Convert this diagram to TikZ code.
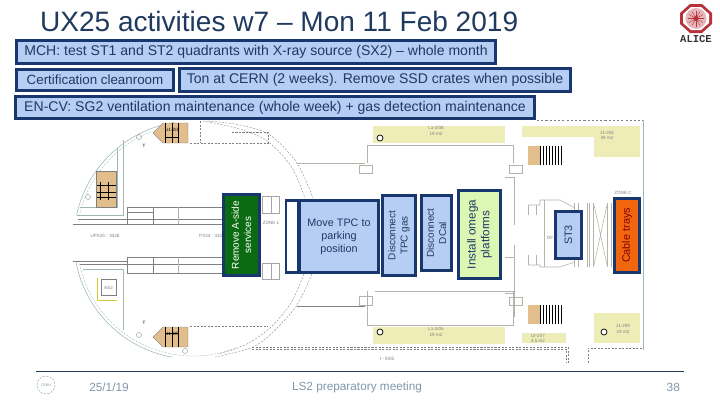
\documentclass[tikz,border=0pt]{standalone}
\usepackage{fontspec}
\setmainfont{Liberation Sans}
\newfontfamily\logofont{Liberation Mono}
\definecolor{navy}{HTML}{17376E}
\definecolor{inkblue}{HTML}{1F3864}
\definecolor{boxblue}{HTML}{B7CEF4}
\definecolor{titleblue}{HTML}{1F3A5F}
\definecolor{footgrey}{HTML}{7F98AC}
\definecolor{roomyellow}{HTML}{EEEDB8}
\definecolor{stairtan}{HTML}{E2BE8C}
\definecolor{wallgrey}{HTML}{B8B2AC}
\definecolor{wallteal}{HTML}{9DB8B4}
\definecolor{planink}{HTML}{7F7F7F}
\definecolor{alicered}{HTML}{B8323A}
\definecolor{asidegreen}{HTML}{0B6B12}
\definecolor{omegagreen}{HTML}{DCF7B4}
\definecolor{trayorange}{HTML}{F2660F}
\tikzset{
  boxsize/.style 2 args={minimum width=#1*0.05cm, minimum height=#2*0.05cm},
  barbox/.style={draw=navy, fill=boxblue, line width=3.6pt, inner sep=0pt, text=inkblue,
    font=\fontsize{20}{24}\selectfont},
  taskbox/.style={draw=navy, fill=boxblue, line width=3.6pt, inner sep=0pt, text=inkblue, align=center,
    font=\fontsize{15.4}{18.6}\selectfont},
  tasksmall/.style={font=\fontsize{14.2}{17.4}\selectfont},
  tasklarge/.style={font=\fontsize{16.6}{19.4}\selectfont},
  tinylabel/.style={text=planink, inner sep=0pt, font=\fontsize{6.5}{7}\selectfont},
  footlabel/.style={text=footgrey, inner sep=0pt, font=\fontsize{16.8}{20}\selectfont},
  wall/.style={draw=wallgrey, line width=0.8pt},
  tealwall/.style={draw=wallteal, line width=0.8pt},
  planline/.style={draw=planink, line width=0.4pt},
  plandash/.style={draw=planink, line width=0.5pt, densely dashed},
  room/.style={fill=roomyellow},
  stair/.style={fill=stairtan, draw=planink, line width=0.5pt},
}
\begin{document}
\begin{tikzpicture}[x=0.05cm, y=-0.05cm]
    \useasboundingbox (0,0) rectangle (720,405);

    % Title
    \node[text=titleblue, inner sep=0pt, anchor=west, font=\fontsize{39.9}{46}\selectfont] (title) at (40,21) {UX25 activities w7 – Mon 11 Feb 2019};

    % ALICE logo
    \fill[alicered] (690,4) -- (702,4) -- (712,13) -- (712,24) -- (702,33) -- (690,33) -- (680,24) -- (680,13) -- cycle;
    \fill[white] (691,7) -- (701,7) -- (709,14) -- (709,23) -- (701,30) -- (691,30) -- (683,23) -- (683,14) -- cycle;
    \fill[alicered!35] (696,18.5) circle[radius=10.5];
    \foreach \a in {0,30,...,330} {
        \draw[alicered, line width=0.6pt] (696,18.5) -- ++(\a:8);
    }
    \fill[alicered] (696,18.5) circle[radius=2.5];
    \node[inner sep=0pt, text=black!80, font=\fontsize{15}{17}\logofont\bfseries] (alice) at (696,39) {ALICE};

    % Outer circle of the cavern
    \draw[tealwall] (193,240) ++(261:119) arc[start angle=261, end angle=192, radius=119];
    \draw[tealwall] (193,240) ++(170:119) arc[start angle=170, end angle=100, radius=119];
    \draw[plandash, wallteal] (193,240) ++(261:116) arc[start angle=261, end angle=192, radius=116];
    \draw[plandash, wallteal] (193,240) ++(170:116) arc[start angle=170, end angle=68, radius=116];
    \draw[plandash] plot[smooth] coordinates {(208,121) (240,125) (270,135) (297,163) (313,198)};
    \draw[plandash] plot[smooth] coordinates {(203,121) (236,128) (266,140) (291,166) (305,198)};
    \draw[plandash] plot[smooth] coordinates {(312,274) (297,305) (275,330) (253,347) (215,357)};
    \draw[plandash] plot[smooth] coordinates {(304,274) (291,303) (270,328) (245,345) (218,354)};

    % Left rooms
    \draw[tealwall] (123,140) -- (123,215) -- (77,215);
    \draw[tealwall] (117,148) -- (117,207) -- (80,207);
    \draw[tealwall] (83,269) -- (123,269) -- (123,330);
    \fill[stair] (96,171) rectangle (116,207);
    \draw[planline, black] (97,185) -- (116,185) (97,192) -- (116,192) (97,197) -- (116,197) (100,182) -- (100,200) (108,182) -- (108,200);
    \draw[planline, yellow!80!black] (97,278) -- (97,300) -- (117,300);
    \draw[planline] (101,279) rectangle (116,295);
    \node[tinylabel] (asroom) at (108.5,288) {AS2};

    % Corridor
    \draw[planline] (78,219) -- (222,219) (73,224) -- (222,224) (127,207) -- (222,207) (127,212) -- (153,212);
    \draw[planline] (127,207) -- (127,224) (153,207) -- (153,224);
    \draw[planline] (73,261) -- (127,261) (80,264) -- (222,264) (127,257) -- (222,257) (127,273) -- (222,273);
    \draw[planline] (127,257) -- (127,273) (153,257) -- (153,273);
    \draw[planline, black!30] (178,207) -- (178,224) (178,257) -- (178,273);
    \node[tinylabel] (upx) at (105,236) {UPX25 : 3326};
    \node[tinylabel] (px) at (212,235.5) {PX24 : 3326};
    \node[tinylabel] (zone1) at (271,223) {ZONE 1};
    \draw[planline, black!35] (262,196) rectangle (279,213) (271,196) -- (271,213);
    \draw[planline, black!35] (262,263) rectangle (279,279) (271,263) -- (271,279);

    % Stair rooms on the left
    \filldraw[stair] (153,133) -- (163,123) -- (188,123) -- (188,143) -- (163,143) -- cycle;
    \filldraw[stair] (153,337) -- (163,327) -- (188,327) -- (188,347) -- (163,347) -- cycle;
    \draw[planline, black] (165,123) -- (165,143) (172,123) -- (172,143) (178,123) -- (178,143) (165,137) -- (179,137);
    \draw[planline, black] (165,327) -- (165,347) (172,327) -- (172,347) (178,327) -- (178,347) (165,333) -- (179,333);
    \node[tinylabel, text=black] (sta) at (172,130) {U1-2/4};
    \node[tinylabel, text=black] (stb) at (172,334) {U1-2/5};
    \node[tinylabel, text=black] (ta) at (144,146) {T};
    \node[tinylabel, text=black] (tb) at (144,323) {T};
    \draw[planline] (139,137) circle[radius=2.5] (88,197) circle[radius=2.5] (139,335) circle[radius=2.5] (185,351) circle[radius=2.5];

    % Dashed service lines
    \draw[plandash] (190,143) -- (268,143) -- (268,132) -- (232,132);
    \draw[plandash] (200,121) -- (200,143);
    \draw[plandash] (190,326) -- (268,326);

    % Rooms along the top and the bottom
    \fill[room] (373,126) rectangle (505,143);
    \fill[room] (522,126) -- (640,126) -- (640,157) -- (594,157) -- (594,137) -- (522,137) -- cycle;
    \fill[room] (373,327) rectangle (505,344);
    \fill[room] (594,313) rectangle (640,343);
    \fill[room] (522,333) rectangle (566,343);
    \node[tinylabel] (rooma) at (436,128) {L1-2/06};
    \node[tinylabel] (roomaa) at (436,134) {19 m2};
    \node[tinylabel] (roomb) at (607,133) {J1-205};
    \node[tinylabel] (roombb) at (607,138) {39 m2};
    \node[tinylabel] (roomc) at (436,329) {L1-2/05};
    \node[tinylabel] (roomcc) at (436,335) {19 m2};
    \node[tinylabel] (roomd) at (623,326) {J1-259};
    \node[tinylabel] (roomdd) at (623,332) {19 m2};
    \node[tinylabel] (roome) at (538,336) {UI-207};
    \node[tinylabel] (roomee) at (538,341) {4.5 m2};
    \node[tinylabel] (side) at (387,359) {I - 9/05};
    \node[tinylabel] (zonec) at (623,193) {ZONE C};
    \draw[black, line width=1pt, fill=white] (380,138) circle[radius=3] (380,332) circle[radius=3] (604,332) circle[radius=3];

    % Central hall walls
    \draw[wall] (367,163) -- (367,145) -- (513,145) -- (513,163);
    \draw[wall] (367,291) -- (367,325) -- (513,325) -- (513,291) -- (375,291);
    \draw[wall] (297,163) -- (365,163);
    \draw[planink] (297,306) -- (365,306);
    \draw[wall] (359,165) rectangle (372,173) (359,296) rectangle (372,305);
    \draw[wall] (509,165) rectangle (522,173) (509,297) rectangle (522,305);
    \draw[wall] (514,177) -- (514,225) (505,177) -- (514,177) (514,245) -- (514,317) (505,293) -- (514,293) (505,257) -- (514,257);

    % Stairs on the right
    \fill[stair, draw=none] (528,146) rectangle (540,165);
    \fill[stair, draw=none] (528,305) rectangle (540,324);
    \foreach \i in {540,543,...,561} {
        \draw[planline, black] (\i,146) -- (\i,165);
        \draw[planline, black] (\i,305) -- (\i,324);
    }

    % Cone and shielding behind ST3 and the cable trays
    \draw[wall] (528,205) -- (540,205) -- (540,200) -- (560,200) -- (575,208);
    \draw[wall] (528,265) -- (540,265) -- (540,267) -- (560,267) -- (575,262);
    \draw[wall] (528,205) -- (528,215) (536,205) -- (536,215) (544,200) -- (544,267) (528,255) -- (528,265) (536,255) -- (536,265);
    \node[tinylabel] (dfl) at (550,238) {DF};
    \draw[wall] (574,203) -- (574,267) (578,203) -- (578,267) (587,203) -- (587,267) (589,203) -- (589,267) (593,203) -- (593,267) (607,203) -- (607,267) (611,203) -- (611,267);
    \draw[wall] (594,205) -- (607,265) (607,205) -- (594,265);

    % Outer walls
    \draw[planink, line width=0.5pt, dashed] (537,120) -- (643,120);
    \draw[wallteal, line width=0.8pt] (643,120) -- (643,350);
    \draw[plandash] (252,347) -- (568,347) -- (568,363);
    \draw[plandash] (252,349) -- (566,349) -- (566,363);
    \draw[plandash] (588,363) -- (588,348) -- (643,348);

    % Bars at the top
    \node[barbox, boxsize={479}{23}] (mchbar) at (256,52) {MCH: test ST1 and ST2 quadrants with X-ray source (SX2) – whole month};
    \node[barbox, boxsize={157}{21}, font=\fontsize{19}{23}\selectfont] (certbar) at (95,80) {Certification cleanroom};
    \node[barbox, boxsize={391}{23}] (tonbar) at (375,80) {Ton at CERN (2 weeks). Remove SSD crates when possible};
    \node[barbox, boxsize={519}{22}] (cvbar) at (275,107.5) {EN-CV: SG2 ventilation maintenance (whole week) + gas detection maintenance};

    % Tasks in the cavern
    \node[taskbox, tasksmall, rotate=90, fill=asidegreen, text=white, boxsize={81}{36}] (aside) at (241.5,235) {Remove A-side\\services};
    \node[taskbox, fill=white, boxsize={12}{72}] (movegap) at (292,236.5) {};
    \node[taskbox, boxsize={79}{72}] (movetpc) at (339,236.5) {Move TPC to\\parking\\position};
    \node[taskbox, tasksmall, rotate=90, boxsize={80}{33}] (tpcgas) at (399,235.5) {Disconnect\\TPC gas};
    \node[taskbox, tasksmall, rotate=90, boxsize={75}{30}] (dcal) at (436.5,233) {Disconnect\\DCal};
    \node[taskbox, tasklarge, rotate=90, fill=omegagreen, boxsize={88}{42}] (omega) at (479.5,234.5) {Install omega\\platforms};
    \node[taskbox, rotate=90, boxsize={47}{26}] (stthree) at (568.5,235) {ST3};
    \node[taskbox, rotate=90, fill=trayorange, text=red!50!black, boxsize={74}{25}] (trays) at (627,235.5) {Cable trays};

    % Footer
    \draw[titleblue, line width=0.9pt] (36,371) -- (684,371);
    \draw[footgrey, line width=0.6pt, densely dashed] (46,385) circle[radius=9];
    \node[text=footgrey, inner sep=0pt, font=\fontsize{5}{6}\selectfont] (cernlogo) at (46,385) {CERN};
    \node[footlabel] (datelabel) at (109,387) {25/1/19};
    \node[footlabel] (meetinglabel) at (357,387) {LS2 preparatory meeting};
    \node[footlabel, anchor=east] (pagelabel) at (680,387) {38};

\end{tikzpicture}
\end{document}
